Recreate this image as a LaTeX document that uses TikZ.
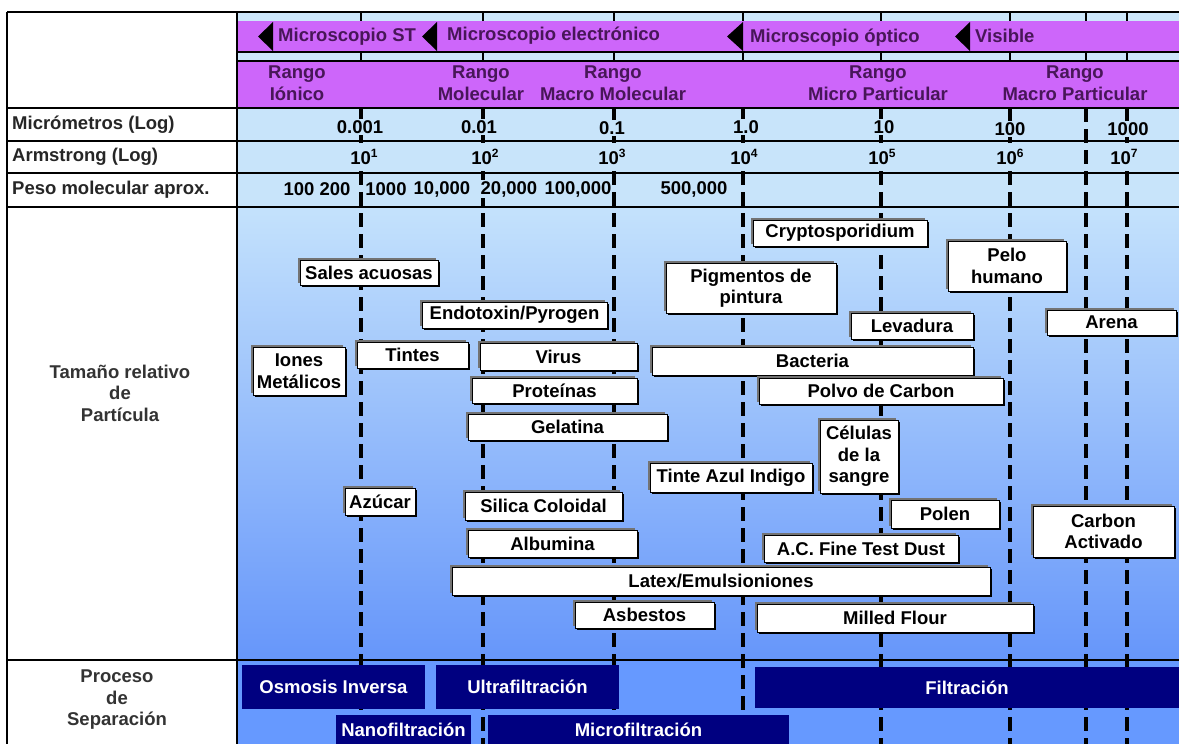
\documentclass[tikz,border=0pt]{standalone}
\usepackage{fontspec}
\setmainfont{Liberation Sans}
\usetikzlibrary{shadows}
\definecolor{purpband}{RGB}{205,102,250}
\definecolor{stripblue}{RGB}{204,230,250}
\definecolor{rowblue}{RGB}{200,228,250}
\definecolor{gradtop}{RGB}{196,226,252}
\definecolor{gradbot}{RGB}{102,150,250}
\definecolor{procblue}{RGB}{102,153,255}
\definecolor{procnavy}{RGB}{0,0,128}
\definecolor{rangetxt}{RGB}{72,22,88}
\newcommand\supten[1]{10\raisebox{0.42em}{\fontsize{12}{12}\selectfont #1}}

\begin{document}
\begin{tikzpicture}[x=1pt,y=-1pt,
  font=\fontsize{18.5}{21.5}\selectfont\bfseries,
  bx/.style={draw=black, line width=1pt, fill=white, inner sep=0pt, align=center,
    general shadow={fill=black!55, shadow xshift=-2pt, shadow yshift=2pt},
    general shadow={fill=black, shadow xshift=1.8pt, shadow yshift=-1.8pt}},
  proc/.style={fill=procnavy, text=white, inner sep=0pt},
  val/.style={fill=rowblue, inner sep=1pt},
  lbl/.style={anchor=west, text=black!85, inner sep=0pt},
  rango/.style={text=rangetxt, align=center, inner sep=0pt},
  mscope/.style={text=rangetxt, anchor=west, inner sep=0pt},
  gridline/.style={line width=1.4pt},
  vline/.style={line width=3.4pt, dash pattern=on 14pt off 7pt}]
\useasboundingbox (0,0) rectangle (1179,744);
\fill[white] (0,0) rectangle (1179,744);

% bands
\fill[stripblue] (237,12) rectangle (1179,21);
\fill[purpband] (237,21) rectangle (1179,52);
\fill[stripblue] (237,52) rectangle (1179,61);
\fill[purpband] (237,61) rectangle (1179,108);
\fill[rowblue] (237,108) rectangle (1179,207);
\shade[top color=gradtop, bottom color=gradbot] (237,207) rectangle (1179,660);
\fill[procblue] (237,660) rectangle (1179,744);

% scale lines
\foreach \x in {361,483,614,743,881,1010,1127}
  \draw[vline] (\x,108) -- (\x,744);
\draw[vline, line width=4pt] (1086,108) -- (1086,744);
\foreach \x in {361,483,614,743,881,1010,1086,1127}
{
  \draw[line width=2pt] (\x,12) -- (\x,21);
  \draw[line width=2pt] (\x,52) -- (\x,61);
}

\draw[gridline]
(7,12) -- (1179,12)
(237,52) -- (1179,52)
(237,61) -- (1179,61)
(7,108) -- (1179,108)
(7,141) -- (1179,141)
(7,173) -- (1179,173)
(7,207) -- (1179,207)
(7,660) -- (1179,660)
(7,12) -- (7,744)
(237,12) -- (237,744);

% microscopios
\fill (258,36.5) -- (273,22) -- (273,51) -- cycle;
\fill (422,36.5) -- (437,22) -- (437,51) -- cycle;
\fill (727,36.5) -- (743,22) -- (743,51) -- cycle;
\fill (955,36.5) -- (970,22) -- (970,51) -- cycle;
\node (mst) at (278,37) [mscope] {Microscopio ST};
\node (mel) at (447,36) [mscope] {Microscopio electrónico};
\node (mop) at (750,38) [mscope] {Microscopio óptico};
\node (mvi) at (975,36) [mscope] {Visible};

% rangos
\node (rion) at (297,83) [rango] {Rango\\Iónico};
\node (rmol) at (481,83) [rango] {Rango\\Molecular};
\node (rmac) at (613,83) [rango] {Rango\\Macro Molecular};
\node (rmip) at (878,83) [rango] {Rango\\Micro Particular};
\node (rmap) at (1075,83) [rango] {Rango\\Macro Particular};

% filas
\node (lmic) at (12,125) [lbl] {Micrómetros (Log)};
\node (larm) at (12,157) [lbl] {Armstrong (Log)};
\node (lpes) at (12,190) [lbl] {Peso molecular aprox.};
\node (ltam) at (120,393) [align=center, text=black!80] {Tamaño relativo\\de\\Partícula};
\node (lpro) at (117,700) [align=center, text=black!80] {Proceso\\de\\Separación};

\node (m1) at (360,127) [val] {0.001};
\node (m2) at (479,127) [val] {0.01};
\node (m3) at (612,128) [val] {0.1};
\node (m4) at (746,127) [val] {1.0};
\node (m5) at (884,127) [val] {10};
\node (m6) at (1010,129) [val] {100};
\node (m7) at (1128,129) [val] {1000};

\node (a1) at (364,157) [val] {\supten{1}};
\node (a2) at (485,157) [val] {\supten{2}};
\node (a3) at (612,157) [val] {\supten{3}};
\node (a4) at (744,157) [val] {\supten{4}};
\node (a5) at (882,157) [val] {\supten{5}};
\node (a6) at (1010,157) [val] {\supten{6}};
\node (a7) at (1124,157) [val] {\supten{7}};

\node (p1) at (299,189) [val] {100};
\node (p2) at (335,189) [val] {200};
\node (p3) at (386,189) [val] {1000};
\node (p4) at (442,189) [val] {10,000};
\node (p5) at (509,189) [val] {20,000};
\node (p6) at (578,189) [val] {100,000};
\node (p7) at (694,189) [val] {500,000};

% particulas
\node (sales) at (369,272.5) [bx, minimum width=138pt, minimum height=25pt] {Sales acuosas};
\node (endo) at (514.5,315) [bx, minimum width=185pt, minimum height=26pt] {Endotoxin/Pyrogen};
\node (tintes) at (412.5,355) [bx, minimum width=111pt, minimum height=26pt] {Tintes};
\node (iones) at (299,371) [bx, minimum width=92pt, minimum height=48pt] {Iones\\Metálicos};
\node (virus) at (558.5,356.5) [bx, minimum width=157pt, minimum height=27pt] {Virus};
\node (prot) at (554.5,390.5) [bx, minimum width=165pt, minimum height=25pt] {Proteínas};
\node (gel) at (567.5,427) [bx, minimum width=199pt, minimum height=26pt] {Gelatina};
\node (pigm) at (751,288) [bx, minimum width=170pt, minimum height=50pt] {Pigmentos de\\pintura};
\node (crypto) at (840,233) [bx, minimum width=174pt, minimum height=26pt] {Cryptosporidium};
\node (pelo) at (1007,266) [bx, minimum width=118pt, minimum height=50pt] {Pelo\\humano};
\node (levad) at (912,326) [bx, minimum width=122pt, minimum height=26pt] {Levadura};
\node (arena) at (1111.5,322.5) [bx, minimum width=129pt, minimum height=25pt] {Arena};
\node (bact) at (812.5,361) [bx, minimum width=321pt, minimum height=28pt] {Bacteria};
\node (polvo) at (881,391) [bx, minimum width=244pt, minimum height=26pt] {Polvo de Carbon};
\node (azucar) at (380,501.5) [bx, minimum width=70pt, minimum height=27pt] {Azúcar};
\node (silica) at (543.5,506) [bx, minimum width=157pt, minimum height=28pt] {Silica Coloidal};
\node (albu) at (552.5,543.5) [bx, minimum width=169pt, minimum height=27pt] {Albumina};
\node (latex) at (721,581) [bx, minimum width=538pt, minimum height=28pt] {Latex/Emulsioniones};
\node (asb) at (644.5,615) [bx, minimum width=139pt, minimum height=26pt] {Asbestos};
\node (indigo) at (731,477.5) [bx, minimum width=162pt, minimum height=29pt] {Tinte Azul Indigo};
\node (cel) at (859,456.5) [bx, minimum width=78pt, minimum height=73pt] {Células\\de la\\sangre};
\node (polen) at (945,514) [bx, minimum width=108pt, minimum height=28pt] {Polen};
\node (acdust) at (861,548.5) [bx, minimum width=194pt, minimum height=27pt] {A.C. Fine Test Dust};
\node (carbon) at (1103.5,531.5) [bx, minimum width=141pt, minimum height=51pt] {Carbon\\Activado};
\node (milled) at (895,618) [bx, minimum width=276pt, minimum height=28pt] {Milled Flour};

% procesos
\node (osmo) at (333.5,687) [proc, minimum width=183pt, minimum height=44pt] {Osmosis Inversa};
\node (ultra) at (527.5,687) [proc, minimum width=183pt, minimum height=44pt] {Ultrafiltración};
\node (filt) at (967,687.5) [proc, minimum width=424pt, minimum height=41pt] {Filtración};
\node (nano) at (403.5,729.5) [proc, minimum width=135pt, minimum height=29pt] {Nanofiltración};
\node (micro) at (638.5,729.5) [proc, minimum width=301pt, minimum height=29pt] {Microfiltración};
\end{tikzpicture}
\end{document}
